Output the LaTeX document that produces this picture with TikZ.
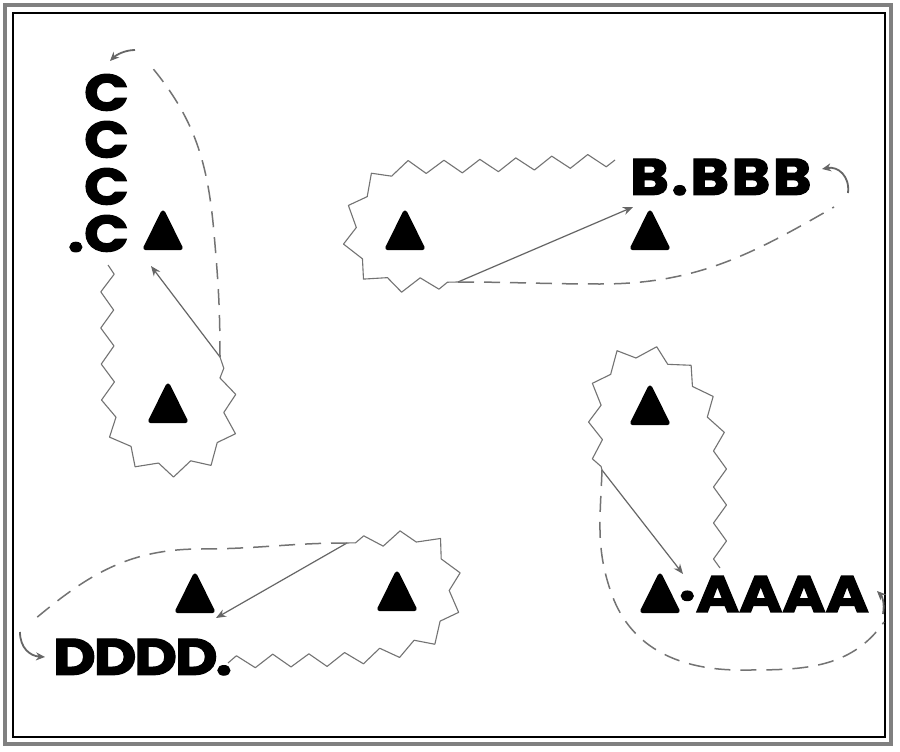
\documentclass[tikz,border=0pt]{standalone}
\usepackage{fontspec}
\newfontfamily\lblfont{Poppins}[FakeBold=2.5, FakeStretch=1.15]
\newfontfamily\lblfontwide{Poppins}[FakeBold=2.5, FakeStretch=1.15, LetterSpace=5]
\newfontfamily\lblfontnarrow{Poppins}[FakeBold=2.5, FakeStretch=1.15, LetterSpace=-4]
\usetikzlibrary{decorations.pathmorphing,arrows.meta,shapes.geometric}
\begin{document}
\begin{tikzpicture}[x=1pt,y=-1pt,
  lbl/.style={font=\lblfont\bfseries\fontsize{51}{47}\selectfont, inner sep=0pt, text=black},
  lblwide/.style={lbl, font=\lblfontwide\bfseries\fontsize{51}{47}\selectfont},
  lblnarrow/.style={lbl, font=\lblfontnarrow\bfseries\fontsize{51}{47}\selectfont},
  tri/.style={isosceles triangle, isosceles triangle apex angle=53, shape border rotate=90,
    fill=black, draw=black, line width=4.5pt, line join=round, inner sep=0pt,
    minimum width=35pt, minimum height=35pt},
  zig/.style={draw=black!55, line width=1.1pt, line join=round, decorate,
    decoration={zigzag, segment length=36pt, amplitude=6.5pt}},
  dsh/.style={draw=black!55, line width=1.5pt, dash pattern=on 16pt off 10pt},
  arr/.style={draw=black!60, line width=1.2pt, -{Stealth[length=10pt,width=8pt]}},
  curl/.style={draw=black!60, line width=1.8pt, -{Stealth[length=9pt,width=8pt]}},
  frameout/.style={draw=gray, line width=4pt},
  framein/.style={draw=black, line width=1.2pt}]
\useasboundingbox (0,0) rectangle (900,752);
\fill[white] (0,0) rectangle (900,752);
\draw[frameout] (5,5) rectangle (891,744);
\draw[framein] (13,13) rectangle (885,737);

% ---------- labels ----------
\node[lblwide, anchor=west] (B) at (630,177) {B.BBB};
\node[lbl, anchor=north east, align=right] (C) at (129,74) {C\\C\\C\\.C};
\node[lbl, anchor=east] (A) at (869,594) {·AAAA};
\node[lblnarrow, anchor=west] (D) at (53,657) {DDDD.};

% ---------- triangles ----------
\node[tri] (B1) at (405,237) {};
\node[tri] (B2) at (650,237) {};
\node[tri] (C1) at (163,237) {};
\node[tri] (C2) at (168,410) {};
\node[tri] (A1) at (660,600) {};
\node[tri] (A2) at (650,412) {};
\node[tri] (D1) at (195,600) {};
\node[tri] (D2) at (397,598) {};

% ---------- hubs, tips, curl starts ----------
\coordinate (hB) at (458,282);
\coordinate (hC) at (220,357);
\coordinate (hA) at (602,470);
\coordinate (hD) at (347,543);
\coordinate (aB) at (633,207);
\coordinate (aC) at (151,266);
\coordinate (aA) at (683,574);
\coordinate (aD) at (216,618);
\coordinate (zB) at (615,160);
\coordinate (zC) at (108,265);
\coordinate (zA) at (720,568);
\coordinate (zD) at (228,663);
\coordinate (sB) at (848,193);
\coordinate (eB) at (822,169);
\coordinate (sC) at (135,50);
\coordinate (eC) at (110,61);
\coordinate (sA) at (883,614);
\coordinate (eA) at (877,591);
\coordinate (sD) at (20,632);
\coordinate (eD) at (45,657);

% ---------- group B ----------
\draw[zig] (zB) to[out=182,in=0] (410,167) to[out=180,in=90] (350,235)
  to[out=270,in=180] (400,285) to[out=0,in=180] (hB);
\draw[arr] (hB) -- (aB);
\draw[dsh] (hB) to[out=0,in=180] (600,284) to[out=0,in=210] (834,207);
\draw[curl] (sB) .. controls (850,176) and (838,166) .. (eB);

% ---------- group C ----------
\draw[zig] (zC) to[out=268,in=90] (108,400) to[out=270,in=180] (170,470)
  to[out=0,in=270] (230,420) to[out=90,in=290] (hC);
\draw[arr] (hC) -- (aC);
\draw[dsh] (hC) to[out=90,in=275] (214,233) to[out=95,in=310] (150,65);
\draw[curl] (sC) .. controls (125,50) and (116,55) .. (eC);

% ---------- group A ----------
\draw[zig] (zA) to[out=90,in=270] (720,460) to[out=90,in=0] (640,352)
  to[out=180,in=90] (595,410) to[out=270,in=105] (hA);
\draw[arr] (hA) -- (aA);
\draw[dsh] (hA) to[out=268,in=110] (612,595) to[out=290,in=180] (740,670)
  to[out=0,in=235] (884,622);
\draw[curl] (sA) .. controls (885,603) and (882,596) .. (eA);

% ---------- group D ----------
\draw[zig] (zD) to[out=5,in=195] (410,648) to[out=15,in=270] (455,590)
  to[out=90,in=0] (415,537) to[out=180,in=0] (hD);
\draw[arr] (hD) -- (aD);
\draw[dsh] (hD) to[out=180,in=0] (200,549) to[out=180,in=40] (35,619);
\draw[curl] (sD) .. controls (20,648) and (30,656) .. (eD);
\end{tikzpicture}
\end{document}
